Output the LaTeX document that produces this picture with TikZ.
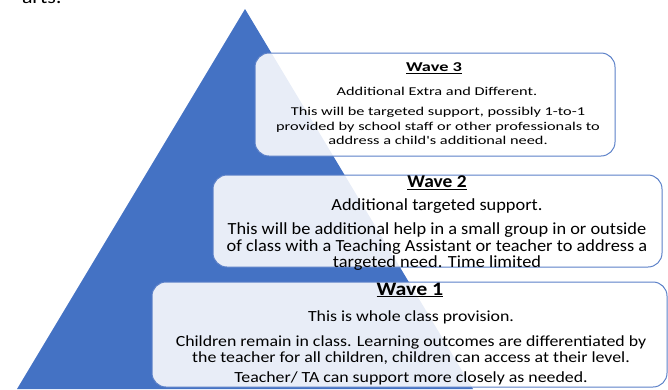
\documentclass[tikz,border=0pt]{standalone}
\usepackage{fontspec}
\setmainfont{Carlito}
\newfontfamily\wthree[FakeStretch=1.36]{Carlito}
\newfontfamily\wtwo[FakeStretch=1.08]{Carlito}
\newfontfamily\wone[FakeStretch=1.15]{Carlito}
\definecolor{pyr}{HTML}{4472C4}
\definecolor{boxline}{HTML}{5B80C8}
\begin{document}
\begin{tikzpicture}[x=1pt,y=-1pt,
  wavebox/.style={draw=boxline,line width=1pt,fill=white,fill opacity=0.88,rounded corners=14pt},
  txt/.style={inner sep=0pt,align=center,text=black,text opacity=1},
  ttl/.style={txt}]
\clip (0,0) rectangle (668,389);
\useasboundingbox (0,0) rectangle (668,389);
\node[txt,anchor=base east,font=\wone\fontsize{19}{20}\selectfont] (hdr) at (62,3.5) {arts:};
\fill[pyr] (245,9) -- (473,389) -- (17,389) -- cycle;
% Wave 3
\draw[wavebox] (255,53) rectangle (615,156);
\node[ttl,font=\wthree\fontsize{13.5}{14}\selectfont\bfseries] (t3) at (434,68) {\underline{Wave 3}};
\node[txt,font=\wthree\fontsize{12}{14}\selectfont] (s3) at (437,91) {Additional Extra and Different.};
\node[txt,font=\wthree\fontsize{12}{14.2}\selectfont] (b3) at (438,126) {This will be targeted support, possibly 1-to-1\\provided by school staff or other professionals to\\address a child's additional need.};
% Wave 2
\draw[wavebox] (213,175) rectangle (662,267);
\node[ttl,font=\wtwo\fontsize{18}{18}\selectfont\bfseries] (t2) at (437,183) {\underline{Wave 2}};
\node[txt,font=\wtwo\fontsize{17}{18}\selectfont] (s2) at (437,206) {Additional targeted support.};
\node[txt,font=\wtwo\fontsize{17}{16.5}\selectfont] (b2) at (437,247) {This will be additional help in a small group in or outside\\of class with a Teaching Assistant or teacher to address a\\targeted need. Time limited};
% Wave 1
\draw[wavebox] (152,282) rectangle (667,387);
\node[ttl,font=\wone\fontsize{19}{20}\selectfont\bfseries] (t1) at (410,290) {\underline{Wave 1}};
\node[txt,font=\wone\fontsize{15.5}{16}\selectfont] (s1) at (411,317) {This is whole class provision.};
\node[txt,font=\wone\fontsize{15.5}{15.8}\selectfont] (b1) at (411,350.5) {Children remain in class. Learning outcomes are differentiated by\\the teacher for all children, children can access at their level.};
\node[txt,font=\wone\fontsize{15.5}{16}\selectfont] (c1) at (411,378) {Teacher/ TA can support more closely as needed.};
\end{tikzpicture}
\end{document}
